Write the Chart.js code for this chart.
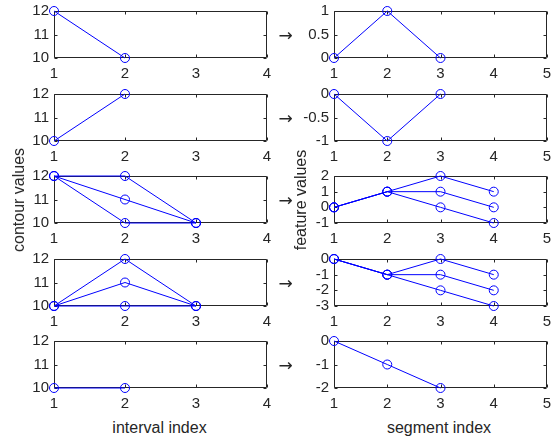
<!DOCTYPE html>
<html lang="en">
<head>
<meta charset="UTF-8">
<title>contour values and feature values</title>
<script src="https://cdn.jsdelivr.net/npm/chart.js"></script>
<style>
  body { margin: 0; background: #fff; }
  #fig {
    position: relative;
    width: 555px;
    height: 441px;
    font-family: 'Liberation Sans', Arial, sans-serif;
    color: #262626;
  }
  canvas { position: absolute; }
  .lbl {
    position: absolute;
    font-size: 16px;
    white-space: nowrap;
    transform: translate(-50%, -50%);
    z-index: 2;
  }
  .rot { transform: translate(-50%, -50%) rotate(-90deg); }
  .arrow {
    position: absolute;
    font-family: 'DejaVu Sans', sans-serif;
    font-size: 17px;
    transform: translate(-50%, -50%);
    z-index: 2;
  }
</style>
</head>
<body>
<div id="fig">
  <div class="lbl rot" style="left:18.7px; top:199.5px;">contour values</div>
  <div class="lbl rot" style="left:301.4px; top:199.5px;">feature values</div>
  <div class="lbl" style="left:159.5px; top:428px;">interval index</div>
  <div class="lbl" style="left:439px; top:428px;">segment index</div>
</div>

<script>
  // x positions
  const intervalIdx = [1, 2, 3];
  const segmentIdx = [1, 2, 3, 4];

  // left column: contour values, one list of series per row
  const contour1 = [[12, 10]];
  const contour2 = [[10, 12]];
  const contour3 = [[12, 12, 10], [12, 11, 10], [12, 10, 10]];
  const contour4 = [[10, 12, 10], [10, 11, 10], [10, 10, 10]];
  const contour5 = [[10, 10]];

  // right column: feature values
  const feature1 = [[0, 1, 0]];
  const feature2 = [[0, -1, 0]];
  const feature3 = [[0, 1, 2, 1], [0, 1, 1, 0], [0, 1, 0, -1]];
  const feature4 = [[0, -1, 0, -1], [0, -1, -1, -2], [0, -1, -2, -3]];
  const feature5 = [[0, -1, -2]];

  // y axis ranges
  const contourMin = [10, 10, 10, 10, 10];
  const contourMax = [12, 12, 12, 12, 12];
  const contourStep = [1, 1, 1, 1, 1];
  const featureMin = [0, -1, -1, -3, -2];
  const featureMax = [1, 0, 2, 0, 0];
  const featureStep = [0.5, 0.5, 1, 1, 1];

  const contourMaxX = 4;
  const featureMaxX = 5;

  const contours = [contour1, contour2, contour3, contour4, contour5];
  const features = [feature1, feature2, feature3, feature4, feature5];

  // layout in page pixels
  const rowTops = [11, 94, 176, 259, 341];
  const PLOT_W = 213, PLOT_H = 47;
  const Y_W = 44, X_H = 26, PAD_T = 8;
  const LEFT_PLOT = 54, RIGHT_PLOT = 334;
  const INK = '#262626';
  const BLUE = '#0000ff';
  const tickFont = { family: "'Liberation Sans', Arial, sans-serif", size: 15 };

  const framePlugin = {
    id: 'frame',
    beforeDatasetsDraw(chart) {
      const { ctx, chartArea: a, scales: { x, y } } = chart;
      const l = a.left + 0.5, r = a.right - 0.5, t = a.top + 0.5, b = a.bottom - 0.5;
      const tl = 3;
      ctx.save();
      ctx.strokeStyle = INK;
      ctx.lineWidth = 1;
      ctx.beginPath();
      ctx.rect(l, t, r - l, b - t);
      x.ticks.forEach(tk => {
        const px = Math.round(x.getPixelForValue(tk.value)) + 0.5;
        ctx.moveTo(px, b); ctx.lineTo(px, b - tl);
        ctx.moveTo(px, t); ctx.lineTo(px, t + tl);
      });
      y.ticks.forEach(tk => {
        const py = Math.round(y.getPixelForValue(tk.value)) + 0.5;
        ctx.moveTo(l, py); ctx.lineTo(l + tl, py);
        ctx.moveTo(r, py); ctx.lineTo(r - tl, py);
      });
      ctx.stroke();
      ctx.restore();
    }
  };

  const fig = document.getElementById('fig');
  const plain = v => String(v);

  function panel(plotLeft, plotTop, padR, xs, series, xMax, yMin, yMax, yStep) {
    const cv = document.createElement('canvas');
    const w = Y_W + PLOT_W + padR;
    const h = PAD_T + PLOT_H + X_H;
    cv.width = w;
    cv.height = h;
    cv.style.left = (plotLeft - Y_W) + 'px';
    cv.style.top = (plotTop - PAD_T) + 'px';
    fig.appendChild(cv);

    new Chart(cv, {
      type: 'line',
      data: {
        datasets: series.map(s => ({
          data: s.map((v, i) => ({ x: xs[i], y: v })),
          borderColor: BLUE,
          borderWidth: 1,
          pointRadius: 4.5,
          pointBorderWidth: 1,
          pointBorderColor: BLUE,
          pointBackgroundColor: 'rgba(0,0,0,0)',
          tension: 0,
          clip: false
        }))
      },
      options: {
        responsive: false,
        animation: false,
        events: [],
        layout: { padding: { top: PAD_T, right: padR, left: 0, bottom: 0 } },
        plugins: { legend: { display: false }, tooltip: { enabled: false } },
        scales: {
          x: {
            type: 'linear', min: 1, max: xMax,
            ticks: { stepSize: 1, padding: 7, color: INK, font: tickFont, autoSkip: false, callback: plain },
            grid: { display: false, drawTicks: false },
            border: { display: false },
            afterFit(s) { s.height = X_H; s.paddingLeft = 0; s.paddingRight = 0; }
          },
          y: {
            type: 'linear', min: yMin, max: yMax,
            ticks: { stepSize: yStep, padding: 5, color: INK, font: tickFont, autoSkip: false, callback: plain },
            grid: { display: false, drawTicks: false },
            border: { display: false },
            afterFit(s) { s.width = Y_W; s.paddingTop = 0; s.paddingBottom = 0; }
          }
        }
      },
      plugins: [framePlugin]
    });
  }

  rowTops.forEach((top, r) => {
    panel(LEFT_PLOT, top, 10, intervalIdx, contours[r], contourMaxX,
      contourMin[r], contourMax[r], contourStep[r]);
    panel(RIGHT_PLOT, top, 8, segmentIdx, features[r], featureMaxX,
      featureMin[r], featureMax[r], featureStep[r]);

    const arrow = document.createElement('div');
    arrow.className = 'arrow';
    arrow.textContent = '→';
    arrow.style.left = '285.5px';
    arrow.style.top = (top + PLOT_H / 2) + 'px';
    fig.appendChild(arrow);
  });
</script>
</body>
</html>
